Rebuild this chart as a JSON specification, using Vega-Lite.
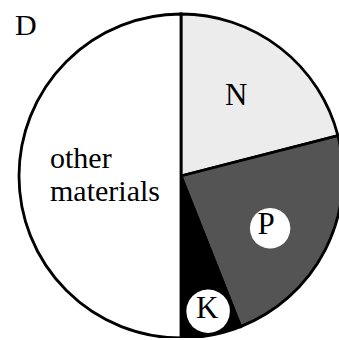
{
  "$schema": "https://vega.github.io/schema/vega-lite/v6.json",
  "width": 324,
  "height": 324,
  "autosize": "none",
  "padding": {"left": 19, "top": 14, "right": 0, "bottom": 0},
  "background": "white",
  "title": {"text": "D", "anchor": "start", "frame": "group", "font": "Liberation Serif", "fontSize": 30, "fontWeight": "normal", "color": "black", "baseline": "alphabetic", "dx": -4, "dy": 61},
  "config": {"view": {"stroke": null}},
  "data": {"values": [
    {"cat": "N", "value": 21, "i": 1},
    {"cat": "P", "value": 23, "i": 2},
    {"cat": "K", "value": 6, "i": 3},
    {"cat": "other materials", "value": 50, "i": 4}
  ]},
  "encoding": {
    "theta": {"field": "value", "type": "quantitative", "stack": true},
    "order": {"field": "i", "type": "quantitative"}
  },
  "layer": [
    {
      "mark": {"type": "arc", "stroke": "black", "strokeWidth": 2.8},
      "encoding": {
        "color": {"field": "cat", "type": "nominal", "legend": null,
          "scale": {"domain": ["N", "P", "K", "other materials"], "range": ["#ececec", "#545454", "#000000", "#ffffff"]}}
      }
    },
    {
      "mark": {"type": "text", "radius": 100, "font": "DejaVu Sans", "fontSize": 53, "color": "white", "baseline": "middle", "align": "center", "dy": 5},
      "encoding": {"text": {"condition": {"test": "datum.cat === 'P'", "value": "●"}, "value": ""}}
    },
    {
      "mark": {"type": "text", "radius": 134, "font": "DejaVu Sans", "fontSize": 57, "color": "white", "baseline": "middle", "align": "center", "dx": 2, "dy": 1},
      "encoding": {"text": {"condition": {"test": "datum.cat === 'K'", "value": "●"}, "value": ""}}
    },
    {
      "mark": {"type": "text", "radius": 98, "font": "Liberation Serif", "fontSize": 31, "color": "black", "baseline": "middle", "align": "center", "dx": -5, "dy": -3},
      "encoding": {"text": {"condition": {"test": "datum.cat === 'N'", "field": "cat"}, "value": ""}}
    },
    {
      "mark": {"type": "text", "radius": 100, "font": "Liberation Serif", "fontSize": 31, "color": "black", "baseline": "middle", "align": "center", "dx": -4, "dy": 4},
      "encoding": {"text": {"condition": {"test": "datum.cat === 'P'", "field": "cat"}, "value": ""}}
    },
    {
      "mark": {"type": "text", "radius": 134, "font": "Liberation Serif", "fontSize": 31, "color": "black", "baseline": "middle", "align": "center", "dx": 1, "dy": 1},
      "encoding": {"text": {"condition": {"test": "datum.cat === 'K'", "field": "cat"}, "value": ""}}
    },
    {
      "mark": {"type": "text", "radius": 131, "font": "Liberation Serif", "fontSize": 30, "lineHeight": 33, "color": "black", "baseline": "middle", "align": "left", "lineBreak": " ", "dy": -17},
      "encoding": {"text": {"condition": {"test": "datum.cat === 'other materials'", "field": "cat"}, "value": ""}}
    }
  ]
}
